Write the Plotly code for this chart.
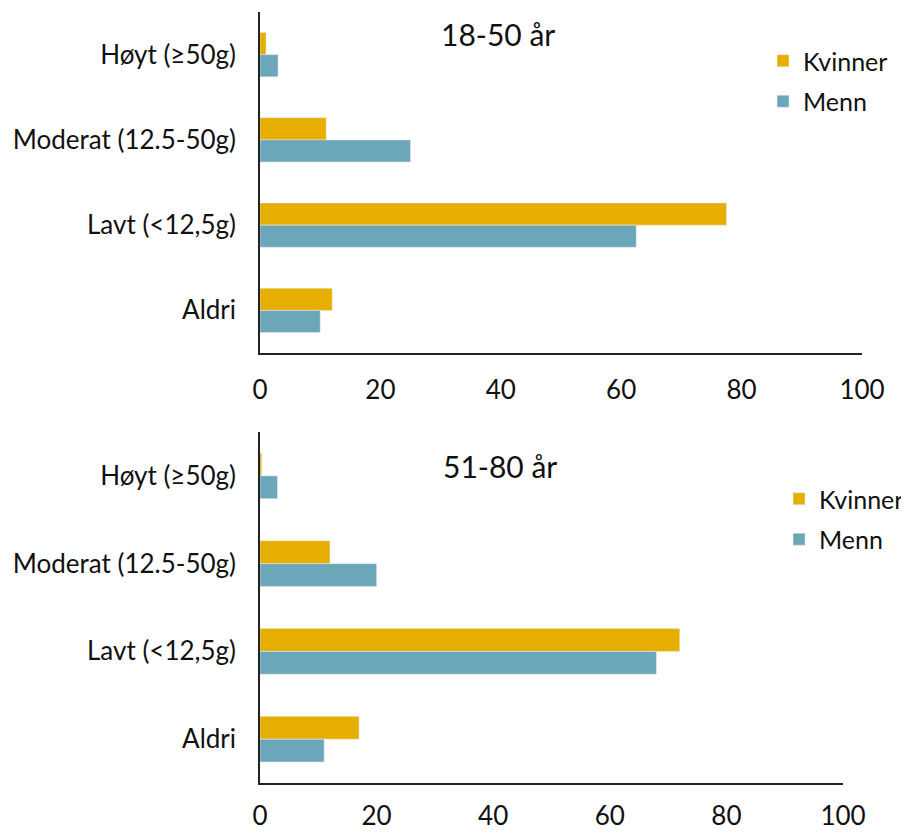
import plotly.graph_objects as go

# Categories, top to bottom as drawn
categories = ["Høyt (≥50g)", "Moderat (12.5-50g)", "Lavt (<12,5g)", "Aldri"]

# 18-50 år
kvinner_18_50 = [1, 11, 77.5, 12]
menn_18_50 = [3, 25, 62.5, 10]

# 51-80 år
kvinner_51_80 = [0.3, 12, 72, 17]
menn_51_80 = [3, 20, 68, 11]

panel_titles = ["18-50 år", "51-80 år"]
x_ticks = [0, 20, 40, 60, 80, 100]

KV_COLOR = "#E6AF00"
ME_COLOR = "#6CA6B9"
FONT = "Lato"

# page has an 8px body margin, so the figure is a bit smaller than the window
OFF = 8
W, H = 909 - OFF, 832 - OFF


def px_x(x):
    return (x - OFF) / W


def px_y(y):
    return (H - (y - OFF)) / H


fig = go.Figure()

# --- top panel ---
fig.add_trace(go.Bar(y=categories, x=kvinner_18_50, name="Kvinner", orientation="h",
                     marker=dict(color=KV_COLOR), xaxis="x", yaxis="y",
                     legend="legend", legendgroup="k1"))
fig.add_trace(go.Bar(y=categories, x=menn_18_50, name="Menn", orientation="h",
                     marker=dict(color=ME_COLOR), xaxis="x", yaxis="y",
                     legend="legend", legendgroup="m1"))

# --- bottom panel ---
fig.add_trace(go.Bar(y=categories, x=kvinner_51_80, name="Kvinner", orientation="h",
                     marker=dict(color=KV_COLOR), xaxis="x2", yaxis="y2",
                     legend="legend2", legendgroup="k2"))
fig.add_trace(go.Bar(y=categories, x=menn_51_80, name="Menn", orientation="h",
                     marker=dict(color=ME_COLOR), xaxis="x2", yaxis="y2",
                     legend="legend2", legendgroup="m2"))

xaxis_common = dict(range=[0, 100], tickvals=x_ticks, showgrid=False, zeroline=False,
                    showline=True, linecolor="#222", linewidth=1.5, automargin=False,
                    ticks="", tickfont=dict(size=26, color="#111", family=FONT))
yaxis_common = dict(categoryorder="array", categoryarray=categories, autorange="reversed",
                    showgrid=False, zeroline=False, showline=True, linecolor="#222",
                    linewidth=1.5, ticks="", ticklabelstandoff=17, automargin=False,
                    tickfont=dict(size=26, color="#111", family=FONT))

legend_common = dict(font=dict(size=25, color="#111", family=FONT), bgcolor="rgba(0,0,0,0)",
                     traceorder="grouped", tracegroupgap=5, xanchor="left", yanchor="top",
                     itemclick=False)

fig.update_layout(
    width=W, height=H,
    margin=dict(l=0, r=0, t=0, b=0, autoexpand=False),
    plot_bgcolor="white", paper_bgcolor="white",
    barmode="group", bargap=0.48, bargroupgap=0,
    font=dict(family=FONT, color="#111"),
    xaxis=dict(domain=[px_x(260), px_x(862)], anchor="y", ticklabelstandoff=13, **xaxis_common),
    yaxis=dict(domain=[px_y(353), px_y(12)], anchor="x", **yaxis_common),
    xaxis2=dict(domain=[px_x(260), px_x(843)], anchor="y2", ticklabelstandoff=9, **xaxis_common),
    yaxis2=dict(domain=[px_y(783), px_y(432)], anchor="x2", **yaxis_common),
    legend=dict(x=px_x(763), y=px_y(38), **legend_common),
    legend2=dict(x=px_x(779), y=px_y(476), **legend_common),
    annotations=[
        dict(text=panel_titles[0], x=px_x(498), y=px_y(34), xref="paper", yref="paper",
             xanchor="center", yanchor="middle", showarrow=False,
             font=dict(size=30, family=FONT, color="#111")),
        dict(text=panel_titles[1], x=px_x(500), y=px_y(466), xref="paper", yref="paper",
             xanchor="center", yanchor="middle", showarrow=False,
             font=dict(size=30, family=FONT, color="#111")),
    ],
)

fig.write_html("out.html")
